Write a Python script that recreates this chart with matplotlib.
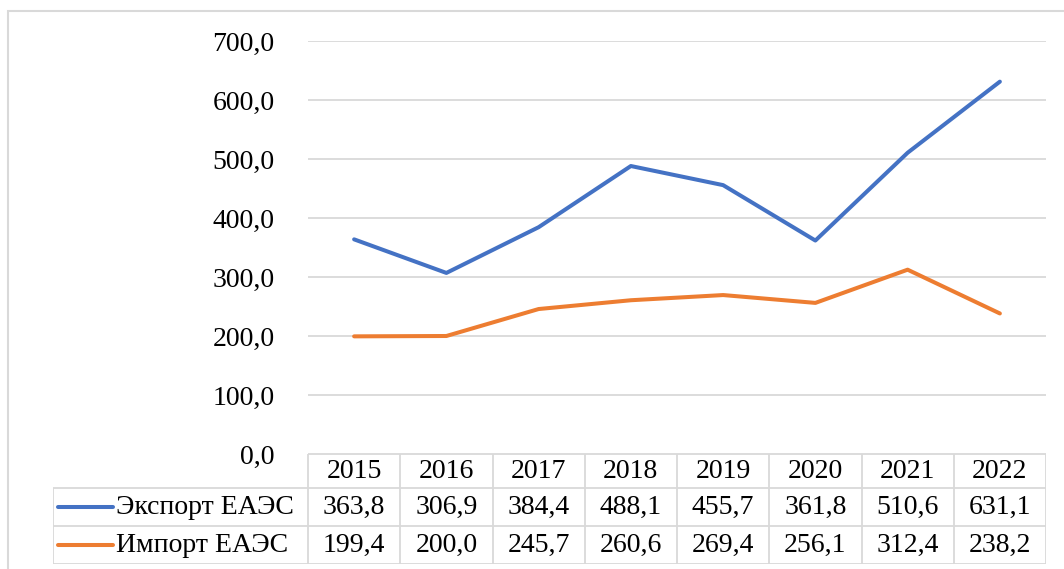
import matplotlib
matplotlib.use("Agg")
import matplotlib.pyplot as plt
from matplotlib.patches import Rectangle

FONT = 'Liberation Serif'
plt.rcParams['font.family'] = [FONT, 'DejaVu Serif']

years = ['2015', '2016', '2017', '2018', '2019', '2020', '2021', '2022']
export_vals = [363.8, 306.9, 384.4, 488.1, 455.7, 361.8, 510.6, 631.1]
import_vals = [199.4, 200.0, 245.7, 260.6, 269.4, 256.1, 312.4, 238.2]
series_names = ['Экспорт ЕАЭС', 'Импорт ЕАЭС']
colors = ['#4472C4', '#ED7D31']
yticks = [0, 100, 200, 300, 400, 500, 600, 700]

W, H = 1064, 569
fs = 20
grid_c = '#D9D9D9'

fig = plt.figure(figsize=(W / 100, H / 100), dpi=100)

# outer chart border
fig.patches.append(Rectangle((8 / W, -0.1), 1.1, (H - 11) / H + 0.1, transform=fig.transFigure,
                             fill=False, edgecolor=grid_c, linewidth=1.5))

def px(x0, y0, x1, y1):
    return [x0 / W, 1 - y1 / H, (x1 - x0) / W, (y1 - y0) / H]

# line plot
ax = fig.add_axes(px(308, 41, 1046, 454))
x = list(range(len(years)))
for vals, c in zip([export_vals, import_vals], colors):
    ax.plot(x, vals, color=c, linewidth=2.9, solid_capstyle='round', zorder=3)
ax.set_xlim(-0.5, len(years) - 0.5)
ax.set_ylim(0, 700)
ax.set_yticks(yticks)
ax.set_yticklabels([f'{v:.1f}'.replace('.', ',') for v in yticks], fontsize=fs, fontfamily=FONT)
ax.tick_params(axis='y', length=0, pad=24)
ax.set_xticks([])
ax.yaxis.grid(True, color=grid_c, linewidth=1.3)
ax.set_axisbelow(True)
for s in ax.spines.values():
    s.set_visible(False)

# data table
tax = fig.add_axes(px(53, 454, 1046, 564))
lab_w = (308 - 53) / 92.25
tax.set_xlim(-0.5 - lab_w, len(years) - 0.5)
row_edges = [110, 76, 38, 0]  # px from bottom of table
tax.set_ylim(0, 110)
tax.axis('off')
lw = 1.3
tax.hlines(row_edges[0], -0.5, len(years) - 0.5, color=grid_c, lw=lw)
for yv in row_edges[1:]:
    tax.hlines(yv, -0.5 - lab_w, len(years) - 0.5, color=grid_c, lw=lw)
for i in range(len(years) + 1):
    tax.vlines(i - 0.5, 0, row_edges[0], color=grid_c, lw=lw)
tax.vlines(-0.5 - lab_w, 0, row_edges[1], color=grid_c, lw=lw)

hdr_y = (row_edges[0] + row_edges[1]) / 2
for i, yr in enumerate(years):
    tax.text(i, hdr_y, yr, ha='center', va='center', fontsize=fs, fontfamily=FONT)

for r, (name, vals, c) in enumerate(zip(series_names, [export_vals, import_vals], colors)):
    yc = (row_edges[r + 1] + row_edges[r + 2]) / 2
    for i, v in enumerate(vals):
        tax.text(i, yc, f'{v:.1f}'.replace('.', ','), ha='center', va='center',
                 fontsize=fs, fontfamily=FONT)
    x0 = -0.5 - lab_w
    tax.plot([x0 + 5 / 92.25, x0 + 60 / 92.25], [yc, yc], color=c, lw=2.9, solid_capstyle='round')
    tax.text(x0 + 63 / 92.25, yc, name, ha='left', va='center', fontsize=fs, fontfamily=FONT)

fig.savefig('out.png', dpi=100)
